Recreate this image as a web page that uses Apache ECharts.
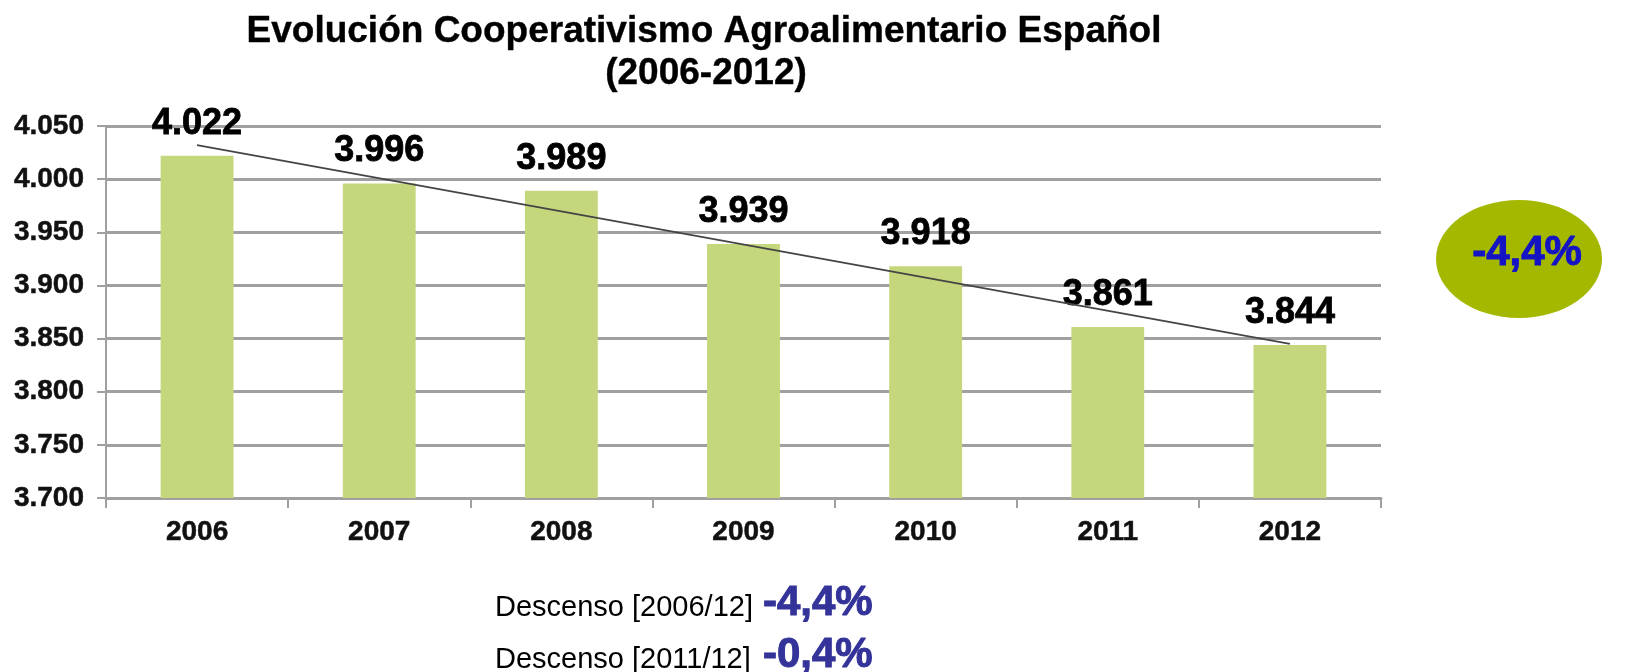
<!DOCTYPE html>
<html>
<head>
<meta charset="utf-8">
<script src="https://cdn.jsdelivr.net/npm/echarts@6/dist/echarts.min.js"></script>
<style>
html,body{margin:0;padding:0;background:#fff;}
#chart{width:1628px;height:672px;}
</style>
</head>
<body>
<div id="chart"></div>
<script>
// ---- data ----
const years = ['2006', '2007', '2008', '2009', '2010', '2011', '2012'];
const cooperativas = [4022, 3996, 3989, 3939, 3918, 3861, 3844];
const trendStart = 4032;   // trend line value read at 2006
const trendEnd = 3845;     // trend line value read at 2012
const yMin = 3700, yMax = 4050, yStep = 50;
const titleLines = ['Evolución Cooperativismo Agroalimentario Español', '(2006-2012)'];
const badgeText = '-4,4%';
const notes = [
  { label: 'Descenso [2006/12]', value: '-4,4%' },
  { label: 'Descenso [2011/12]', value: '-0,4%' }
];

function fmt(v) {
  const s = String(Math.round(v));
  return s.replace(/\B(?=(\d{3})+(?!\d))/g, '.');
}

const FONT = '"Liberation Sans", Arial, sans-serif';
const chart = echarts.init(document.getElementById('chart'));

const graphics = [
  { type: 'text', x: 704, y: 32, style: { text: titleLines[0], font: 'bold 37px ' + FONT, fill: '#000', stroke: '#000', lineWidth: 0.4, textAlign: 'center', textVerticalAlign: 'middle' } },
  { type: 'text', x: 706, y: 74, style: { text: titleLines[1], font: 'bold 37px ' + FONT, fill: '#000', stroke: '#000', lineWidth: 0.4, textAlign: 'center', textVerticalAlign: 'middle' } },
  { type: 'ellipse', shape: { cx: 1519, cy: 259, rx: 83, ry: 59 }, style: { fill: '#a4b800' } },
  { type: 'text', x: 1527, y: 253, style: { text: badgeText, font: 'bold 42px ' + FONT, fill: '#1414c4', stroke: '#1414c4', lineWidth: 1, textAlign: 'center', textVerticalAlign: 'middle' } }
];
notes.forEach((n, i) => {
  const base = 618 + i * 52;
  graphics.push({ type: 'text', x: 495, y: base - 10, style: { text: n.label, font: '29px ' + FONT, fill: '#000', textAlign: 'left', textVerticalAlign: 'middle' } });
  graphics.push({ type: 'text', x: 763, y: base - 15, style: { text: n.value, font: 'bold 42px ' + FONT, fill: '#333399', stroke: '#333399', lineWidth: 1, textAlign: 'left', textVerticalAlign: 'middle' } });
});

chart.setOption({
  backgroundColor: '#ffffff',
  animation: false,
  grid: { left: 106, right: 247, top: 126, bottom: 174, containLabel: false },
  xAxis: {
    type: 'category',
    data: years,
    boundaryGap: true,
    axisLine: { show: true, lineStyle: { color: '#a0a0a0', width: 3 } },
    axisTick: { show: true, length: 10, lineStyle: { color: '#a0a0a0', width: 2 } },
    axisLabel: { color: '#111', fontFamily: FONT, fontWeight: 'bold', fontSize: 28, margin: 20, textBorderColor: '#111', textBorderWidth: 0.5 }
  },
  yAxis: {
    type: 'value',
    min: yMin, max: yMax, interval: yStep,
    axisLine: { show: true, lineStyle: { color: '#a0a0a0', width: 2 } },
    axisTick: { show: true, length: 9, lineStyle: { color: '#a0a0a0', width: 2 } },
    splitLine: { show: true, lineStyle: { color: '#a0a0a0', width: 3 } },
    axisLabel: { color: '#111', fontFamily: FONT, fontWeight: 'bold', fontSize: 28, margin: 22, formatter: fmt, textBorderColor: '#111', textBorderWidth: 0.5 }
  },
  series: [{
    type: 'bar',
    data: cooperativas,
    barWidth: '40%',
    itemStyle: { color: '#c4d77c' },
    label: {
      show: true, position: 'top', distance: 14,
      color: '#000', fontFamily: FONT, fontWeight: 'bold', fontSize: 36,
      textBorderColor: '#000', textBorderWidth: 0.8,
      formatter: p => fmt(p.value)
    },
    markLine: {
      silent: true,
      symbol: ['none', 'none'],
      label: { show: false },
      lineStyle: { color: '#454545', width: 1.6, type: 'solid' },
      data: [[{ coord: [years[0], trendStart] }, { coord: [years[years.length - 1], trendEnd] }]]
    }
  }],
  graphic: graphics
});
</script>
</body>
</html>
